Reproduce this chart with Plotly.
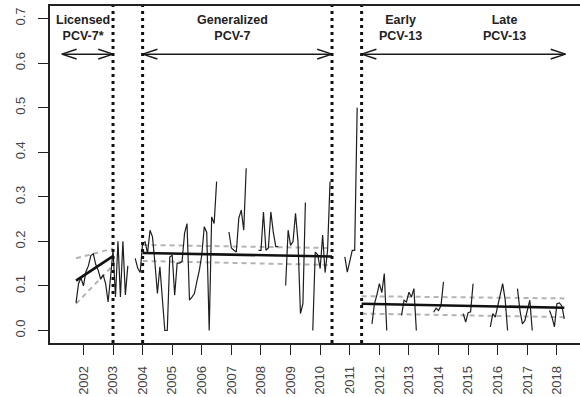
import plotly.graph_objects as go

# Monthly rate, one value per month starting October 2001 (None = no data that month)
first_month = 2001 + 9 / 12
rate = [
    # 2001 (Oct-Dec)
    0.062, 0.105, 0.118,
    # 2002
    0.100, 0.132, 0.145, 0.168, 0.172, 0.148, 0.135, 0.115, 0.125, 0.105, 0.064, 0.120,
    # 2003
    0.180, 0.075, 0.200, 0.075, 0.200, 0.080, 0.145, None, None, 0.162, 0.140, 0.130,
    # 2004
    0.196, 0.199, 0.173, 0.225, 0.210, 0.151, 0.083, 0.143, 0.070, 0.000, 0.000, 0.165,
    # 2005
    0.169, 0.079, 0.151, 0.151, 0.155, 0.218, 0.240, 0.068, 0.075, 0.083, 0.110, 0.135,
    # 2006
    0.170, 0.233, 0.220, 0.000, 0.255, 0.240, 0.334, None, None, None, None, 0.221,
    # 2007
    0.185, 0.180, 0.176, 0.252, 0.270, 0.225, 0.364, None, None, None, None, 0.180,
    # 2008
    0.180, 0.266, 0.180, 0.185, 0.266, 0.220, 0.188, 0.188, None, None, 0.101, 0.225,
    # 2009
    0.191, 0.200, 0.263, 0.200, 0.038, 0.060, 0.287, None, None, 0.000, 0.176, 0.170,
    # 2010
    0.139, 0.214, 0.130, 0.180, 0.334, None, None, None, None, None, 0.165, 0.131,
    # 2011
    0.155, 0.180, 0.180, 0.500, None, None, None, None, None, 0.015, 0.060, 0.080,
    # 2012
    0.105, 0.085, 0.128, 0.000, None, None, None, None, None, 0.034, 0.068, 0.064,
    # 2013
    0.086, 0.075, 0.094, 0.000, None, None, None, None, None, None, 0.041, 0.050,
    # 2014
    0.045, 0.056, 0.109, None, None, None, None, None, None, None, 0.038, 0.019,
    # 2015
    0.040, 0.042, 0.105, None, None, None, None, None, None, 0.008, 0.038, 0.030,
    # 2016
    0.053, 0.079, 0.105, 0.070, 0.000, None, None, None, 0.094, 0.045, 0.015, 0.022,
    # 2017
    0.045, 0.068, 0.000, None, None, None, None, None, None, 0.045, 0.030, 0.008,
    # 2018
    0.060, 0.062, 0.055, 0.026,
]
years = [first_month + i / 12 for i in range(len(rate))]

# Segmented regression: fitted trend and confidence limits per period
seg_start = [2001.75, 2004.0, 2011.4]
seg_end = [2003.0, 2010.4, 2018.25]
fit_start = [0.112, 0.174, 0.060]
fit_end = [0.167, 0.166, 0.051]
ci_hi_start = [0.162, 0.192, 0.077]
ci_hi_end = [0.184, 0.185, 0.072]
ci_lo_start = [0.060, 0.156, 0.038]
ci_lo_end = [0.146, 0.147, 0.030]

# Vaccine period boundaries
breaks = [2003.0, 2004.0, 2010.4, 2011.4]

# Period arrows and labels
arrow_y = 0.62
arrow_from = [2001.27, 2004.0, 2011.4]
arrow_to = [2003.0, 2010.4, 2018.29]
period_labels = ["Licensed<br>PCV-7*", "Generalized<br>PCV-7", "Early<br>PCV-13", "Late<br>PCV-13"]
label_x = [2002.0, 2007.05, 2012.72, 2016.23]

tick_years = list(range(2002, 2019))
y_ticks = [0.0, 0.1, 0.2, 0.3, 0.4, 0.5, 0.6, 0.7]

fig = go.Figure()


def seg_path(x0s, x1s, y0s, y1s):
    xs, ys = [], []
    for a, b, c, d in zip(x0s, x1s, y0s, y1s):
        xs += [a, b, None]
        ys += [c, d, None]
    return xs, ys


# confidence limits (grey dashed)
for lo, hi in ((ci_hi_start, ci_hi_end), (ci_lo_start, ci_lo_end)):
    cx, cy = seg_path(seg_start, seg_end, lo, hi)
    fig.add_trace(go.Scatter(x=cx, y=cy, mode="lines", hoverinfo="skip",
                             line=dict(color="#b4b4b4", width=2, dash="5px,4px")))

# observed monthly series
fig.add_trace(go.Scatter(x=years, y=rate, mode="lines", connectgaps=False,
                         line=dict(color="#1e1e1e", width=1.2)))

# fitted trends
fx, fy = seg_path(seg_start, seg_end, fit_start, fit_end)
fig.add_trace(go.Scatter(x=fx, y=fy, mode="lines", hoverinfo="skip",
                         line=dict(color="#111111", width=2.6)))

# double-headed period arrows with open heads
head_dx = 0.5
head_dy = 0.011
ax, ay = [], []
for a, b in zip(arrow_from, arrow_to):
    ax += [a, b, None]
    ay += [arrow_y, arrow_y, None]
    ax += [a + head_dx, a, a + head_dx, None]
    ay += [arrow_y + head_dy, arrow_y, arrow_y - head_dy, None]
    ax += [b - head_dx, b, b - head_dx, None]
    ay += [arrow_y + head_dy, arrow_y, arrow_y - head_dy, None]
fig.add_trace(go.Scatter(x=ax, y=ay, mode="lines", hoverinfo="skip",
                         line=dict(color="#1a1a1a", width=1.5)))

# period boundaries
for b in breaks:
    fig.add_shape(type="line", xref="x", yref="paper", x0=b, x1=b, y0=0, y1=1,
                  line=dict(color="#111111", width=3, dash="3px,4px"))

for text, x in zip(period_labels, label_x):
    fig.add_annotation(x=x, y=0.679, xref="x", yref="y", text=text, showarrow=False,
                       font=dict(family="Liberation Sans, Arial", size=12.5, color="#222222"),
                       align="center", yanchor="middle")

fig.update_annotations(font_size=12.5)
for ann in fig.layout.annotations:
    ann.text = "<b>" + ann.text.replace("<br>", "</b><br><b>") + "</b>"

fig.update_layout(
    width=580, height=397,
    margin=dict(l=50, r=0, t=6, b=54),
    plot_bgcolor="white", paper_bgcolor="white",
    showlegend=False,
    font=dict(family="Liberation Sans, Arial", color="#444444"),
    xaxis=dict(range=[2000.87, 2018.78], tickvals=tick_years,
               ticktext=[str(t) for t in tick_years], tickangle=-90,
               ticks="outside", ticklen=10, tickwidth=1.3, tickcolor="#222222",
               showline=True, linecolor="#222222", linewidth=1.5, mirror=True,
               showgrid=False, zeroline=False, ticklabelstandoff=6,
               tickfont=dict(size=13, color="#444444")),
    yaxis=dict(range=[-0.028, 0.728], tickvals=y_ticks,
               ticktext=[f"{v:.1f}" for v in y_ticks], tickangle=-90,
               ticks="outside", ticklen=10, tickwidth=1.3, tickcolor="#222222",
               showline=True, linecolor="#222222", linewidth=1.5, mirror=False,
               showgrid=False, zeroline=False, ticklabelstandoff=8,
               tickfont=dict(size=13, color="#444444")),
)

fig.write_html("out.html")
